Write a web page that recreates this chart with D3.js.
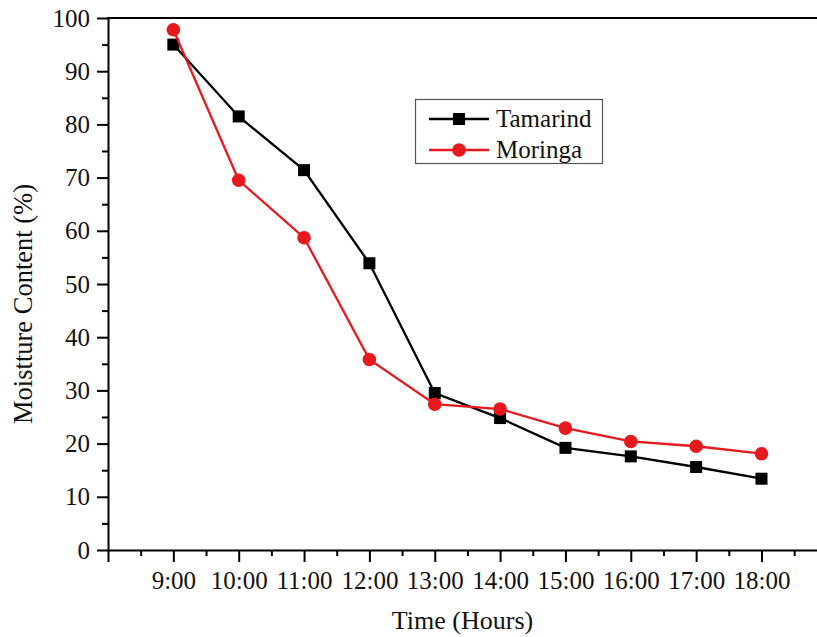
<!DOCTYPE html>
<html>
<head>
<meta charset="utf-8">
<script src="https://cdn.jsdelivr.net/npm/d3@7"></script>
<style>
  body { margin: 0; background: #fff; }
  svg { display: block; }
  text { font-family: "Liberation Serif", "Times New Roman", serif; fill: #111; }
</style>
</head>
<body>
<svg id="chart" width="817" height="637"></svg>
<script>
// Drying time (hour of day) and moisture content readings
const hours = [9, 10, 11, 12, 13, 14, 15, 16, 17, 18];
const timeLabels = ["9:00", "10:00", "11:00", "12:00", "13:00", "14:00", "15:00", "16:00", "17:00", "18:00"];
const tamarind = [95.0, 81.5, 71.4, 53.9, 29.5, 24.8, 19.2, 17.6, 15.6, 13.4];
const moringa = [97.8, 69.5, 58.7, 35.8, 27.4, 26.5, 22.9, 20.4, 19.5, 18.1];
const seriesNames = ["Tamarind", "Moringa"];
const yTicks = [0, 10, 20, 30, 40, 50, 60, 70, 80, 90, 100];
const yMinorTicks = [5, 15, 25, 35, 45, 55, 65, 75, 85, 95];
const xMajorTicks = [8, 9, 10, 11, 12, 13, 14, 15, 16, 17, 18, 19];
const xMinorTicks = [8.5, 9.5, 10.5, 11.5, 12.5, 13.5, 14.5, 15.5, 16.5, 17.5, 18.5];

const svg = d3.select("#chart");
const plotLeft = 108, plotTop = 18, plotBottom = 550;
const x = d3.scaleLinear().domain([8, 19]).range([plotLeft, plotLeft + 11 * 65.35]);
const y = d3.scaleLinear().domain([0, 100]).range([plotBottom, plotTop]);
const colors = { Tamarind: "#000000", Moringa: "#e8191d" };

const labelOf = d => {
  const i = hours.indexOf(d);
  return i >= 0 ? timeLabels[i] : "";
};

// frame: top border line
svg.append("line")
  .attr("x1", plotLeft - 1).attr("x2", 817)
  .attr("y1", plotTop).attr("y2", plotTop)
  .attr("stroke", "#000").attr("stroke-width", 2);

// x axis (major + minor ticks)
const gx = svg.append("g").attr("transform", `translate(0,${plotBottom})`)
  .call(d3.axisBottom(x).tickValues(xMajorTicks).tickSize(12).tickSizeOuter(0).tickPadding(9).tickFormat(labelOf));
gx.append("g")
  .call(d3.axisBottom(x).tickValues(xMinorTicks).tickSize(6).tickFormat(""))
  .select(".domain").remove();
gx.selectAll("path.domain").attr("stroke-width", 2);
gx.selectAll("line").attr("stroke-width", 2);
gx.selectAll("text").style("font-size", "25px").attr("fill", "#111");

// y axis (major + minor ticks)
const gy = svg.append("g").attr("transform", `translate(${plotLeft},0)`)
  .call(d3.axisLeft(y).tickValues(yTicks).tickSize(11).tickSizeOuter(0).tickPadding(7).tickFormat(d3.format("d")));
gy.append("g")
  .call(d3.axisLeft(y).tickValues(yMinorTicks).tickSize(6).tickFormat(""))
  .select(".domain").remove();
gy.selectAll("path.domain").attr("stroke-width", 2);
gy.selectAll("line").attr("stroke-width", 2);
gy.selectAll("text").style("font-size", "25px").attr("fill", "#111");

// axis titles
svg.append("text")
  .attr("x", (plotLeft + 817) / 2).attr("y", 629)
  .attr("text-anchor", "middle")
  .style("font-size", "26px")
  .text("Time (Hours)");
svg.append("text")
  .attr("transform", "translate(32,304) rotate(-90)")
  .attr("text-anchor", "middle")
  .style("font-size", "26.5px")
  .text("Moistture Content (%)");

// series
const series = [
  { name: seriesNames[0], values: tamarind, shape: "square" },
  { name: seriesNames[1], values: moringa, shape: "circle" }
];
const line = d3.line().x((d, i) => x(hours[i])).y(d => y(d));

function drawMarker(g, shape, color) {
  if (shape === "square") {
    g.append("rect").attr("x", -6).attr("y", -6).attr("width", 12).attr("height", 12).attr("fill", color);
  } else {
    g.append("circle").attr("r", 6.8).attr("fill", color);
  }
}

series.forEach(s => {
  const c = colors[s.name];
  svg.append("path")
    .datum(s.values)
    .attr("d", line)
    .attr("fill", "none")
    .attr("stroke", c)
    .attr("stroke-width", 2.3);
  svg.append("g").selectAll("g")
    .data(s.values)
    .join("g")
    .attr("transform", (d, i) => `translate(${x(hours[i])},${y(d)})`)
    .each(function () { drawMarker(d3.select(this), s.shape, c); });
});

// legend
const lg = svg.append("g");
lg.append("rect")
  .attr("x", 415.5).attr("y", 99.5).attr("width", 187).attr("height", 64)
  .attr("fill", "#fff").attr("stroke", "#555").attr("stroke-width", 1.2);
series.forEach((s, i) => {
  const c = colors[s.name];
  const ry = 119 + i * 31;
  lg.append("line")
    .attr("x1", 429).attr("x2", 489).attr("y1", ry).attr("y2", ry)
    .attr("stroke", c).attr("stroke-width", 2.3);
  const m = lg.append("g").attr("transform", `translate(459,${ry})`);
  drawMarker(m, s.shape, c);
  lg.append("text")
    .attr("x", 496).attr("y", ry).attr("dy", "0.33em")
    .style("font-size", "25px")
    .text(s.name);
});
</script>
</body>
</html>
